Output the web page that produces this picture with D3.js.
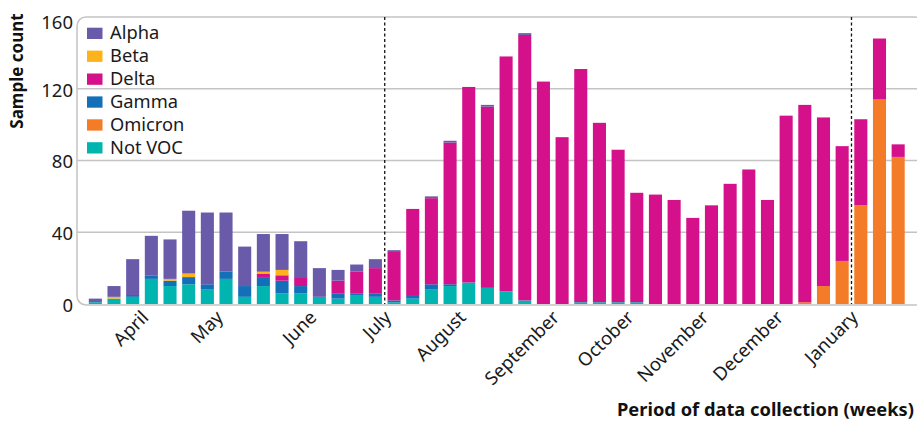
<!DOCTYPE html>
<html>
<head>
<meta charset="utf-8">
<script src="https://cdn.jsdelivr.net/npm/d3@7"></script>
<style>
	body { margin: 0; background: #fff; }
	svg { display: block; font-family: "Noto Sans", "Open Sans", sans-serif; }
</style>
</head>
<body>
<svg id="chart" width="917" height="425"></svg>
<script>
// one value per week, 44 weeks (late March to early February)
var notVoc  = [1,3,4,14,10,11,8,14,4,10,6,6,4,3,5,4,1,3,8,10,12,9,7,2,0,0,1,1,1,1,0,0,0,0,0,0,0,0,0,0,0,0,0,0];
var omicron = [0,0,0,0,0,0,0,0,0,0,0,0,0,0,0,0,0,0,0,0,0,0,0,0,0,0,0,0,0,0,0,0,0,0,0,0,0,0,1,10,24,55,114,82];
var gamma   = [0,0,1,2,3,4,3,4,6,5,7,4,0,3,1,2,1,2,3,1,0,0,0,0,0,0,0,0,0,0,0,0,0,0,0,0,0,0,0,0,0,0,0,0];
var delta   = [0,0,0,0,0,0,0,0,0,2,3,5,0,7,12,14,27,48,48,79,109,101,131,148,124,93,130,100,85,61,61,58,48,55,67,75,58,105,110,94,64,48,34,7];
var beta    = [0,1,0,0,1,2,0,0,0,1,3,0,0,0,0,0,0,0,0,0,0,0,0,0,0,0,0,0,0,0,0,0,0,0,0,0,0,0,0,0,0,0,0,0];
var alpha   = [2,6,20,22,22,35,40,33,22,21,20,20,16,6,4,5,1,0,1,1,0,1,0,1,0,0,0,0,0,0,0,0,0,0,0,0,0,0,0,0,0,0,0,0];

var legendNames = ["Alpha", "Beta", "Delta", "Gamma", "Omicron", "Not VOC"];
var monthLabels = ["April", "May", "June", "July", "August", "September", "October", "November", "December", "January"];
var monthStartWeek = [3, 7, 12, 16, 20, 25, 29, 33, 37, 41];
var dividerWeeks = [16, 41];
var yTicks = [0, 40, 80, 120, 160];

var colors = {
	"Alpha": "#6a5aaa",
	"Beta": "#fdb319",
	"Delta": "#d4118b",
	"Gamma": "#136fb8",
	"Omicron": "#f47b27",
	"Not VOC": "#00b4b0"
};

// stacking goes bottom up, reverse of the legend
var stackOrder = ["Not VOC", "Omicron", "Gamma", "Delta", "Beta", "Alpha"];
var seriesByName = {"Not VOC": notVoc, "Omicron": omicron, "Gamma": gamma, "Delta": delta, "Beta": beta, "Alpha": alpha};

var rows = d3.range(notVoc.length).map(function(i) {
	var r = {week: i};
	stackOrder.forEach(function(k) { r[k] = seriesByName[k][i]; });
	return r;
});

var svg = d3.select("#chart"),
    plotLeft = 77, plotRight = 916, plotTop = 17, plotBottom = 304;

var x = d3.scaleBand()
	.domain(rows.map(function(d) { return d.week; }))
	.range([86, 907.5])
	.paddingInner(0.3)
	.paddingOuter(0.15);

var y = d3.scaleLinear()
	.domain([0, 160])
	.range([plotBottom, plotTop]);

function boundary(w) { return x(w) - (x.step() - x.bandwidth()) / 2; }

// panel
svg.append("rect")
	.attr("x", plotLeft)
	.attr("y", plotTop)
	.attr("width", plotRight - plotLeft + 8)
	.attr("height", plotBottom - plotTop + 1)
	.attr("rx", 9)
	.attr("fill", "none")
	.attr("stroke", "#c4c4c4")
	.attr("stroke-width", 1.5);

svg.append("g")
	.selectAll("line")
	.data(yTicks.slice(1, -1))
	.enter().append("line")
	.attr("x1", plotLeft)
	.attr("x2", plotRight + 2)
	.attr("y1", function(d) { return y(d); })
	.attr("y2", function(d) { return y(d); })
	.attr("stroke", "#c4c4c4")
	.attr("stroke-width", 1.5);

// y axis
var yAxis = svg.append("g")
	.attr("transform", "translate(" + (plotLeft - 4) + ",0)")
	.call(d3.axisLeft(y).tickValues(yTicks).tickSize(0).tickPadding(0));
yAxis.select(".domain").remove();
yAxis.selectAll("text")
	.attr("font-family", "Noto Sans")
	.attr("font-size", 18.5)
	.attr("fill", "#1a1a1a")
	.attr("dy", function(d) { return d === 160 ? "0.6em" : "0.4em"; });

svg.append("text")
	.attr("transform", "translate(23,71) rotate(-90)")
	.attr("text-anchor", "middle")
	.attr("font-size", 17)
	.attr("font-weight", "bold")
	.attr("fill", "#111")
	.text("Sample count");

// bars
var stacked = d3.stack().keys(stackOrder)(rows);

svg.append("g")
	.selectAll("g")
	.data(stacked)
	.enter().append("g")
	.attr("fill", function(d) { return colors[d.key]; })
	.selectAll("rect")
	.data(function(d) { return d; })
	.enter().append("rect")
	.attr("x", function(d) { return x(d.data.week); })
	.attr("width", x.bandwidth())
	.attr("y", function(d) { return y(d[1]); })
	.attr("height", function(d) { return y(d[0]) - y(d[1]); });

// period dividers
svg.append("g")
	.selectAll("line")
	.data(dividerWeeks)
	.enter().append("line")
	.attr("x1", function(d) { return boundary(d); })
	.attr("x2", function(d) { return boundary(d); })
	.attr("y1", plotTop)
	.attr("y2", plotBottom)
	.attr("stroke", "#111")
	.attr("stroke-width", 1.3)
	.attr("stroke-dasharray", "3,2.5");

// month labels
svg.append("g")
	.selectAll("text")
	.data(monthLabels)
	.enter().append("text")
	.attr("transform", function(d, i) {
		return "translate(" + (boundary(monthStartWeek[i]) + 3) + "," + (plotBottom + 10) + ") rotate(-45)";
	})
	.attr("text-anchor", "end")
	.attr("dy", "0.35em")
	.attr("font-size", 18.5)
	.attr("fill", "#1a1a1a")
	.text(function(d) { return d; });

svg.append("text")
	.attr("x", 914)
	.attr("y", 416)
	.attr("text-anchor", "end")
	.attr("font-size", 18.3)
	.attr("font-weight", "bold")
	.attr("fill", "#111")
	.text("Period of data collection (weeks)");

// legend
var legend = svg.append("g")
	.selectAll("g")
	.data(legendNames)
	.enter().append("g")
	.attr("transform", function(d, i) { return "translate(87," + (39 + i * 22.9) + ")"; });

legend.append("rect")
	.attr("y", -11.3)
	.attr("width", 15.5)
	.attr("height", 11.3)
	.attr("fill", function(d) { return colors[d]; });

legend.append("text")
	.attr("x", 23)
	.attr("font-size", 18.3)
	.attr("fill", "#1a1a1a")
	.text(function(d) { return d; });
</script>
</body>
</html>
